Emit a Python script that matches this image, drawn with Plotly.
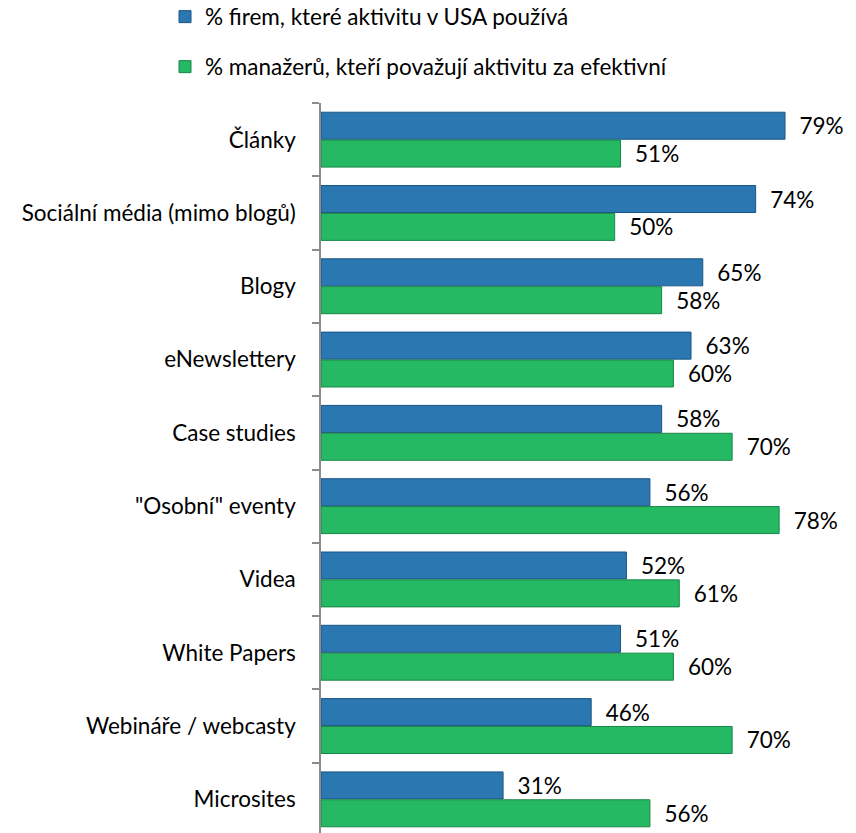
import plotly.graph_objects as go

categories = ["Články", "Sociální média (mimo blogů)", "Blogy", "eNewslettery",
              "Case studies", "\"Osobní\" eventy", "Videa", "White Papers",
              "Webináře / webcasty", "Microsites"]
firms_use = [79, 74, 65, 63, 58, 56, 52, 51, 46, 31]
managers_effective = [51, 50, 58, 60, 70, 78, 61, 60, 70, 56]
series_names = ["% firem, které aktivitu v USA používá",
                "% manažerů, kteří považují aktivitu za efektivní"]

FONT = "Lato"
FS = 22.5
W, H = 856, 833
L, R, T, B = 321, 10, 103, 0
px_per_unit = (785 - 321) / 79.0
xmax = (W - L - R) / px_per_unit
cat_px = 73.3
ymax = -0.5 + (H - T - B) / cat_px

fig = go.Figure()
fig.add_trace(go.Bar(
    y=categories, x=firms_use, orientation="h", name=series_names[0],
    marker=dict(color="#2A77B1", line=dict(color="#1B5584", width=1)),
    text=[f"{v}%" for v in firms_use], textposition="outside",
    texttemplate="  %{text}", cliponaxis=False,
    textfont=dict(family=FONT, size=FS, color="#000000"),
    legend="legend",
))
fig.add_trace(go.Bar(
    y=categories, x=managers_effective, orientation="h", name=series_names[1],
    marker=dict(color="#25B963", line=dict(color="#1A8646", width=1)),
    text=[f"{v}%" for v in managers_effective], textposition="outside",
    texttemplate="  %{text}", cliponaxis=False,
    textfont=dict(family=FONT, size=FS, color="#000000"),
    legend="legend2",
))

fig.update_layout(
    width=W, height=H,
    margin=dict(l=L, r=R, t=T, b=B, pad=0, autoexpand=False),
    paper_bgcolor="white", plot_bgcolor="white",
    barmode="group", bargap=0.24, bargroupgap=0.03,
    font=dict(family=FONT, size=FS, color="#000000"),
    showlegend=True,
    legend=dict(xref="container", yref="container", x=165 / W, y=1 - 17 / H,
                xanchor="left", yanchor="middle", bgcolor="rgba(0,0,0,0)",
                font=dict(family=FONT, size=FS), itemwidth=30),
    legend2=dict(xref="container", yref="container", x=165 / W, y=1 - 67 / H,
                 xanchor="left", yanchor="middle", bgcolor="rgba(0,0,0,0)",
                 font=dict(family=FONT, size=FS), itemwidth=30),
    xaxis=dict(range=[0, xmax], visible=False, fixedrange=True, automargin=False),
    yaxis=dict(type="category", range=[ymax, -0.5], showgrid=False,
               automargin=False,
               showline=True, linecolor="#8C8C8C", linewidth=1.5,
               ticks="outside", tickson="boundaries", ticklen=7,
               tickcolor="#8C8C8C", tickwidth=1.5, ticklabelstandoff=19,
               tickfont=dict(family=FONT, size=FS, color="#000000")),
)

fig.write_html("out.html", config={"displayModeBar": False},
               post_script="document.body.style.margin='0';document.body.style.overflow='hidden';")
